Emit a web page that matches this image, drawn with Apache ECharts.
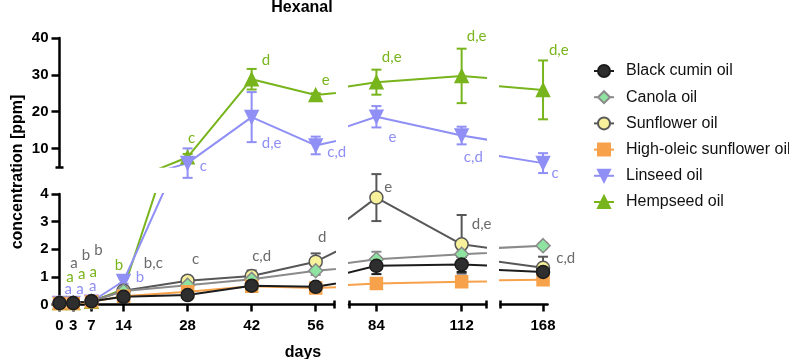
<!DOCTYPE html>
<html>
<head>
<meta charset="utf-8">
<script src="https://cdn.jsdelivr.net/npm/echarts@6/dist/echarts.min.js"></script>
<style>
  html, body { margin: 0; padding: 0; background: #fff; }
  #main { width: 789px; height: 359px; }
</style>
</head>
<body>
<div id="main"></div>
<script>
// sampling days
const days = [0, 3, 7, 14, 28, 42, 56, 84, 112, 168];

// mean concentrations [ppm] and standard deviations
const blackCumin   = [0.05, 0.05, 0.12, 0.28, 0.34, 0.68, 0.64, 1.40, 1.45, 1.18];
const blackCuminSd = [0.02, 0.02, 0.03, 0.05, 0.05, 0.10, 0.08, 0.30, 0.27, 0.15];
const canola       = [0.05, 0.05, 0.12, 0.49, 0.70, 0.91, 1.22, 1.64, 1.82, 2.13];
const canolaSd     = [0.01, 0.01, 0.02, 0.05, 0.05, 0.10, 0.15, 0.27, 0.10, 0.10];
const sunflower    = [0.05, 0.05, 0.12, 0.50, 0.86, 1.03, 1.55, 3.87, 2.18, 1.33];
const sunflowerSd  = [0.01, 0.01, 0.02, 0.05, 0.10, 0.20, 0.30, 0.85, 1.06, 0.40];
const highOleic    = [0.04, 0.04, 0.10, 0.30, 0.46, 0.66, 0.60, 0.76, 0.82, 0.90];
const highOleicSd  = [0.01, 0.01, 0.02, 0.05, 0.05, 0.05, 0.08, 0.05, 0.10, 0.18];
const linseed      = [0.05, 0.05, 0.10, 0.85, 6.0, 18.5, 10.8, 18.6, 13.5, 6.0];
const linseedSd    = [0.01, 0.01, 0.02, 0.10, 4.0, 6.8, 2.4, 2.9, 2.4, 2.7];
const hempseed     = [0.05, 0.05, 0.10, 0.55, 7.6, 28.8, 24.5, 28.0, 29.7, 25.9];
const hempseedSd   = [0.01, 0.01, 0.02, 0.05, 0.9, 2.8, 0.5, 3.4, 7.4, 8.0];

// significance letters
const sunflowerLetters = ['a', 'b', 'b', 'b,c', 'c', 'c,d', 'd', 'e', 'd,e', 'c,d'];
const linseedLetters   = ['a', 'a', 'a', 'b', 'c', 'd,e', 'c,d', 'e', 'c,d', 'c'];
const hempseedLetters  = ['a', 'a', 'a', 'b', 'c', 'd', 'e', 'd,e', 'd,e', 'd,e'];

// tick labels
const xLabels = [[0, 3, 7, 14, 28, 42, 56], [84, 112], [168]];
const yLabelsLow = [0, 1, 2, 3, 4];
const yLabelsHigh = [10, 20, 30, 40];

// --- layout (pixels) ---
const cols = [
  { left: 59.5, width: 274.5, min: 0, max: 60, caps: [60] },
  { left: 349, width: 137, min: 75, max: 120, caps: [75, 120] },
  { left: 500.5, width: 47.1, min: 154, max: 169.5, caps: [154] }
];
const rows = [
  { top: 38, height: 128.8, min: 5, max: 40 },
  { top: 194, height: 110.5, min: 0, max: 4 }
];
// letter offsets from the mean point, [dx, dy]
const sunflowerOff = [[14.5, -40], [12.8, -48], [6.8, -51], [29.8, -28], [8.1, -21.4], [10, -19.4], [6.6, -25], [11.9, -10.9], [20, -20], [22.7, -9.5]];
const linseedOff   = [[8.8, -14], [6.8, -14], [1.2, -15.7], [16.5, -4.3], [15.7, 3], [20, 25.6], [21, 7.2], [16, 20], [11.7, 21.2], [12, 9.6]];
const hempseedOff  = [[10.5, -26.4], [8.5, -28.8], [1.8, -30], [-4.5, -24.3], [4.1, -18.9], [14.3, -19], [10, -15], [15.3, -25], [15, -40], [15.7, -40]];

const FONT = 'Liberation Sans, Arial, sans-serif';
const LETTER_FONT = '15px Lato, sans-serif';
const AXIS = '#000';

// draw order: first drawn is at the bottom
const oils = [
  { name: 'Hempseed oil', vals: hempseed, sd: hempseedSd, symbol: 'triangle', size: 13, rot: 0,
    line: '#78b41c', fill: '#78b41c', border: '#78b41c', letters: hempseedLetters, off: hempseedOff, labelColor: '#7ab51d' },
  { name: 'Linseed oil', vals: linseed, sd: linseedSd, symbol: 'triangle', size: 13, rot: 180,
    line: '#8f8ff5', fill: '#8f8ff5', border: '#8f8ff5', letters: linseedLetters, off: linseedOff, labelColor: '#8f8ff5' },
  { name: 'Sunflower oil', vals: sunflower, sd: sunflowerSd, symbol: 'circle', size: 13, rot: 0,
    line: '#575757', fill: '#f7f19b', border: '#575757', letters: sunflowerLetters, off: sunflowerOff, labelColor: '#6b6b6b' },
  { name: 'Canola oil', vals: canola, sd: canolaSd, symbol: 'diamond', size: 14, rot: 0,
    line: '#8a8a8a', fill: '#8fe3a0', border: '#8a8a8a' },
  { name: 'High-oleic sunflower oil', vals: highOleic, sd: highOleicSd, symbol: 'rect', size: 12, rot: 0,
    line: '#f7a24b', fill: '#f7a24b', border: '#f7a24b' },
  { name: 'Black cumin oil', vals: blackCumin, sd: blackCuminSd, symbol: 'circle', size: 13, rot: 0,
    line: '#1c1c1c', fill: '#2e2e2e', border: '#1c1c1c' }
];
const legendOrder = ['Black cumin oil', 'Canola oil', 'Sunflower oil', 'High-oleic sunflower oil', 'Linseed oil', 'Hempseed oil'];

const grids = [], xAxes = [], yAxes = [], series = [];
const labelStyle = { fontFamily: FONT, fontWeight: 'bold', fontSize: 15, color: '#000' };
const tickLine = { color: AXIS, width: 2.5 };

function capAxis(dim, g, r, c, values, inside) {
  const range = dim === 'x' ? cols[c] : rows[r];
  return {
    type: 'value', gridIndex: g, min: range.min, max: range.max,
    position: dim === 'x' ? 'bottom' : 'left',
    axisLine: { show: false, onZero: false },
    axisTick: { show: true, inside: inside, length: 4, customValues: values, lineStyle: tickLine },
    axisLabel: { show: false }, splitLine: { show: false }
  };
}

rows.forEach((row, r) => {
  cols.forEach((col, c) => {
    const g = r * 3 + c;
    grids.push({ left: col.left, top: row.top, width: col.width, height: row.height, outerBoundsMode: 'none', containLabel: false });
    const showX = r === 1;
    xAxes.push({
      type: 'value', gridIndex: g, min: col.min, max: col.max, position: 'bottom', show: showX,
      axisLine: { onZero: false, lineStyle: tickLine },
      axisTick: { length: 7, customValues: xLabels[c], lineStyle: tickLine },
      axisLabel: Object.assign({ customValues: xLabels[c], margin: 14 }, labelStyle),
      splitLine: { show: false }
    });
    const showY = c === 0;
    yAxes.push({
      type: 'value', gridIndex: g, min: row.min, max: row.max, position: 'left', show: showY,
      axisLine: { onZero: false, lineStyle: tickLine },
      axisTick: { length: 8, customValues: r === 1 ? yLabelsLow : yLabelsHigh, lineStyle: tickLine },
      axisLabel: Object.assign({ customValues: r === 1 ? yLabelsLow : yLabelsHigh, margin: 11 }, labelStyle),
      splitLine: { show: false }
    });
  });
});
// end caps of the broken axes
const extraX = [], extraY = [];
cols.forEach((col, c) => {
  const g = 3 + c;
  extraX.push({ g: g, axis: capAxis('x', g, 1, c, col.caps, false) });
  extraX.push({ g: g, axis: capAxis('x', g, 1, c, col.caps, true) });
});
extraY.push({ g: 0, axis: capAxis('y', 0, 0, 0, [rows[0].min], false) });
extraY.push({ g: 0, axis: capAxis('y', 0, 0, 0, [rows[0].min], true) });
extraX.forEach(e => xAxes.push(e.axis));
extraY.forEach(e => yAxes.push(e.axis));
// companion axes need a partner in their grid; add hidden ones
extraX.forEach(e => yAxes.push({ type: 'value', gridIndex: e.g, min: 0, max: 1, show: false }));
extraY.forEach(e => xAxes.push({ type: 'value', gridIndex: e.g, min: 0, max: 1, show: false }));

function errorSeries(oil, g) {
  const col = cols[g % 3], row = rows[Math.floor(g / 3)];
  return {
    type: 'custom', name: oil.name + ' SD', xAxisIndex: g, yAxisIndex: g, silent: true,
    data: days.map((d, i) => [d, oil.vals[i], oil.sd[i]]),
    renderItem: function (params, api) {
      const d = api.value(0), m = api.value(1), s = api.value(2);
      if (d < col.min || d > col.max || m < row.min || m > row.max) return;
      const top = api.coord([d, m + s]);
      const bot = api.coord([d, m - s]);
      const ctr = api.coord([d, m]);
      const st = { stroke: oil.line, lineWidth: 2 };
      const children = [
        { type: 'line', shape: { x1: top[0], y1: top[1], x2: bot[0], y2: bot[1] }, style: st },
        { type: 'line', shape: { x1: top[0] - 5, y1: top[1], x2: top[0] + 5, y2: top[1] }, style: st },
        { type: 'line', shape: { x1: bot[0] - 5, y1: bot[1], x2: bot[0] + 5, y2: bot[1] }, style: st }
      ];
      if (oil.letters) {
        const i = params.dataIndex;
        children.push({
          type: 'text', x: ctr[0] + oil.off[i][0], y: ctr[1] + oil.off[i][1], z2: 50,
          style: { text: oil.letters[i], fill: oil.labelColor, font: LETTER_FONT, align: 'center', verticalAlign: 'middle' }
        });
      }
      return { type: 'group', children: children };
    },
    animation: false
  };
}

oils.forEach(oil => {
  for (let g = 0; g < 6; g++) {
    series.push(errorSeries(oil, g));
    series.push({
      type: 'line', name: oil.name, xAxisIndex: g, yAxisIndex: g, clip: true,
      data: days.map((d, i) => [d, oil.vals[i]]),
      symbol: oil.symbol, symbolSize: oil.size, symbolRotate: oil.rot, showAllSymbol: true,
      lineStyle: { color: oil.line, width: 2 },
      itemStyle: { color: oil.fill, borderColor: oil.border, borderWidth: 1.5 },
      emphasis: { disabled: true },
      animation: false
    });
  }
});

const chart = echarts.init(document.getElementById('main'), null, { renderer: 'canvas' });
chart.setOption({
  backgroundColor: '#fff',
  animation: false,
  grid: grids,
  xAxis: xAxes,
  yAxis: yAxes,
  legend: {
    data: legendOrder, orient: 'vertical', left: 588, top: 58,
    itemWidth: 20, itemHeight: 15, itemGap: 10.2,
    textStyle: { fontFamily: FONT, fontSize: 16, color: '#111', padding: [0, 0, 0, 7] }
  },
  graphic: [
    { type: 'text', x: 302, y: 8, style: { text: 'Hexanal', font: 'bold 16px ' + FONT, fill: '#000', align: 'center', verticalAlign: 'middle' } },
    { type: 'text', x: 303, y: 353, style: { text: 'days', font: 'bold 16px ' + FONT, fill: '#000', align: 'center', verticalAlign: 'middle' } },
    { type: 'text', x: 18, y: 172, rotation: Math.PI / 2, style: { text: 'concentration [ppm]', font: 'bold 16px ' + FONT, fill: '#000', align: 'center', verticalAlign: 'middle' } }
  ],
  series: series
});
</script>
</body>
</html>
